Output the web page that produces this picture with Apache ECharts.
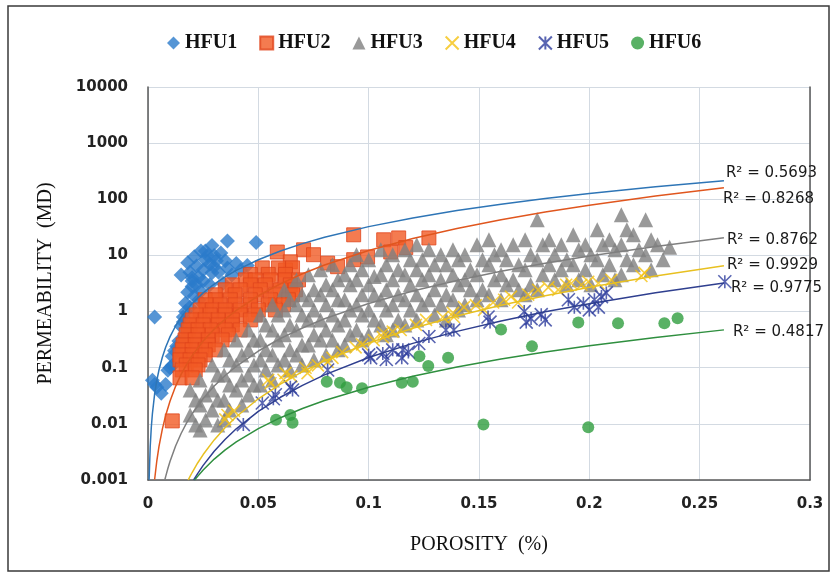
<!DOCTYPE html>
<html><head><meta charset="utf-8">
<script src="https://cdn.jsdelivr.net/npm/echarts@6/dist/echarts.min.js"></script>
<style>html,body{margin:0;padding:0;background:#fff}#c{width:835px;height:581px}</style>
</head><body><div id="c"></div>
<script>
const seriesNames = ['HFU1','HFU2','HFU3','HFU4','HFU5','HFU6'];
const xTickLabels = ['0','0.05','0.1','0.15','0.2','0.25','0.3'];
const yTickLabels = ['0.001','0.01','0.1','1','10','100','1000','10000'];
const rSquared = ['0.5693','0.8268','0.8762','0.9929','0.9775','0.4817'];

const hfu1 = [[0.036,18],[0.049,17],[0.029,15],[0.024,12],[0.033,11],[0.021,9.5],[0.026,8.4],[0.018,7.4],[0.030,6.3],[0.025,5.5],[0.040,7.2],[0.045,6.6],[0.036,6.0],[0.015,4.5],[0.023,4.1],[0.029,4.9],[0.020,2.8],[0.018,2.2],[0.034,3.2],[0.017,1.4],[0.023,1.6],[0.003,0.8],[0.016,0.8],[0.015,0.55],[0.017,0.35],[0.013,0.24],[0.011,0.16],[0.010,0.1],[0.003,0.05],[0.008,0.05],[0.006,0.035],[0.004,0.045],[0.019,5],[0.022,6.5],[0.027,10],[0.031,8],[0.028,3],[0.024,2.3],[0.021,1.9],[0.019,1.2],[0.017,1.0],[0.016,0.65],[0.038,4.5],[0.042,5.5],[0.026,12],[0.020,3.5],[0.019,0.45],[0.014,0.3],[0.012,0.2],[0.009,0.09],[0.002,0.06],[0.011,0.11],[0.028,7],[0.032,5],[0.022,3],[0.025,3.5],[0.035,8],[0.030,10],[0.020,4]];

const hfu2 = [[0.0586,11.5],[0.0705,12.6],[0.075,10.3],[0.0814,7.3],[0.0859,6.3],[0.0932,23.3],[0.0932,8.4],[0.0995,9.4],[0.1068,19],[0.11,11.5],[0.1136,20.5],[0.1168,13.8],[0.1273,20.5],[0.0645,7.7],[0.0623,5.5],
[0.0518,6.0],[0.0591,6.0],[0.0655,6.0],
[0.0464,4.6],[0.0545,4.6],[0.0623,4.6],
[0.0441,3.67],[0.0486,3.67],[0.0555,3.67],[0.0623,3.67],[0.0682,3.67],
[0.0382,2.99],[0.0464,2.99],[0.0532,2.99],[0.0645,2.99],
[0.035,2.44],[0.0418,2.44],[0.0509,2.44],[0.060,2.44],[0.0668,2.44],
[0.0305,1.99],[0.0395,1.99],[0.0486,1.99],[0.0577,1.99],[0.0655,1.99],
[0.0259,1.62],[0.0305,1.62],[0.0373,1.62],[0.0464,1.62],[0.0555,1.62],[0.0636,1.62],
[0.0264,1.32],[0.0327,1.32],[0.0395,1.32],[0.0464,1.32],[0.0545,1.32],[0.0614,1.32],
[0.0236,1.07],[0.0291,1.07],[0.035,1.07],[0.0418,1.07],[0.05,1.07],[0.0577,1.07],
[0.0218,0.873],[0.0282,0.873],[0.035,0.873],[0.0418,0.873],[0.0486,0.873],
[0.02,0.711],[0.0259,0.711],[0.0318,0.711],[0.0382,0.711],[0.0464,0.711],
[0.0191,0.579],[0.025,0.579],[0.0318,0.579],[0.0382,0.579],
[0.0182,0.472],[0.0227,0.472],[0.0282,0.472],[0.035,0.472],[0.0418,0.472],
[0.0173,0.385],[0.0227,0.385],[0.0291,0.385],[0.0364,0.385],
[0.0168,0.313],[0.0214,0.313],[0.0273,0.313],[0.0336,0.313],
[0.0159,0.255],[0.0214,0.255],[0.0273,0.255],
[0.0155,0.208],[0.02,0.208],[0.0259,0.208],[0.0305,0.208],
[0.0145,0.169],[0.02,0.169],[0.0259,0.169],
[0.0145,0.138],[0.0191,0.138],[0.0236,0.138],
[0.0173,0.112],[0.0227,0.112],
[0.0155,0.0914],[0.0214,0.0914],[0.0145,0.066],[0.02,0.066],[0.011,0.0113]];

const hfu3 = [
[0.0191,0.0402],[0.0216,0.0267],[0.0191,0.0144],[0.0216,0.00955],
[0.0236,0.0607],[0.0261,0.0327],[0.0236,0.0217],[0.0261,0.0117],[0.0236,0.00778],
[0.0291,0.112],[0.0316,0.0745],[0.0291,0.0402],[0.0316,0.0267],[0.0291,0.0177],[0.0316,0.00955],
[0.0345,0.208],[0.037,0.138],[0.0345,0.0745],[0.037,0.0494],[0.0345,0.0267],[0.037,0.0177],[0.0345,0.0117],
[0.04,0.313],[0.0425,0.169],[0.04,0.112],[0.0425,0.0607],[0.04,0.0402],[0.0425,0.0217],
[0.0455,0.472],[0.048,0.313],[0.0455,0.208],[0.048,0.112],[0.0455,0.0745],[0.048,0.0494],[0.0455,0.0327],
[0.0509,0.873],[0.0534,0.579],[0.0509,0.313],[0.0534,0.208],[0.0509,0.138],[0.0534,0.0914],[0.0509,0.0494],
[0.0564,1.32],[0.0589,0.873],[0.0564,0.472],[0.0589,0.313],[0.0564,0.169],[0.0589,0.112],[0.0564,0.0607],
[0.0618,2.44],[0.0643,1.62],[0.0618,1.07],[0.0643,0.579],[0.0618,0.385],[0.0643,0.208],[0.0618,0.138],[0.0643,0.0914],
[0.0673,3.67],[0.0698,1.99],[0.0673,1.32],[0.0698,0.873],[0.0673,0.472],[0.0698,0.255],[0.0673,0.169],[0.0698,0.112],
[0.0727,4.51],[0.0752,2.44],[0.0727,1.62],[0.0752,1.07],[0.0727,0.711],[0.0752,0.385],[0.0727,0.255],[0.0752,0.138],
[0.0782,5.54],[0.0807,2.99],[0.0782,1.99],[0.0807,1.32],[0.0782,0.711],[0.0807,0.472],[0.0782,0.313],[0.0807,0.169],
[0.0836,6.81],[0.0861,3.67],[0.0836,2.44],[0.0861,1.62],[0.0836,0.873],[0.0861,0.579],[0.0836,0.313],[0.0861,0.208],
[0.0916,6.81],[0.0891,4.51],[0.0916,2.99],[0.0891,1.62],[0.0916,1.07],[0.0891,0.711],[0.0916,0.385],[0.0891,0.255],
[0.0945,10.3],[0.097,5.54],[0.0945,3.67],[0.097,1.99],[0.0945,1.32],[0.097,0.873],[0.0945,0.472],[0.097,0.313],
[0.1,8.36],[0.1025,4.2],[0.1,2.99],[0.1025,1.99],[0.1,1.07],[0.1025,0.711],[0.1,0.385],
[0.1055,12.6],[0.108,6.81],[0.1055,4.51],[0.108,2.44],[0.1055,1.62],[0.108,1.07],[0.1055,0.579],[0.108,0.385],
[0.1109,10.3],[0.1134,5.54],[0.1109,3.67],[0.1134,1.99],[0.1109,1.32],[0.1134,0.711],[0.1109,0.472],
[0.1164,12.6],[0.1189,8.36],[0.1164,4.51],[0.1189,2.99],[0.1164,1.62],[0.1189,1.07],[0.1164,0.579],
[0.1218,15.5],[0.1243,8.36],[0.1218,5.54],[0.1243,3.67],[0.1218,1.99],[0.1243,1.32],[0.1218,0.711],
[0.1273,12.6],[0.1298,6.81],[0.1273,4.51],[0.1298,2.44],[0.1273,1.62],[0.1298,0.873],
[0.1327,10.3],[0.1352,6.81],[0.1327,3.67],[0.1352,1.99],[0.1327,1.32],[0.1352,0.711],
[0.1382,12.6],[0.1407,8.36],[0.1382,4.51],[0.1407,2.99],[0.1382,1.62],[0.1407,1.07],
[0.1436,10.3],[0.1461,5.54],[0.1436,3.67],[0.1461,2.44],[0.1436,1.32],
[0.1491,15.5],[0.1516,8.36],[0.1491,4.51],[0.1516,2.44],[0.1491,1.62],
[0.1545,19.0],[0.157,10.3],[0.1545,6.81],[0.157,3.67],[0.1545,1.99],
[0.16,12.6],[0.1625,8.36],[0.16,4.51],[0.1625,2.99],[0.16,1.62],
[0.1655,15.5],[0.168,6.81],[0.1655,3.67],[0.168,2.44],
[0.1709,19.0],[0.1734,10.3],[0.1709,5.54],[0.1734,2.99],[0.1709,1.99],
[0.1764,43],[0.1789,15.5],[0.1764,8.36],[0.1789,4.51],[0.1764,2.44],
[0.1818,19.0],[0.1843,10.3],[0.1818,6.81],[0.1843,3.67],
[0.1873,15.5],[0.1898,8.36],[0.1873,5.54],[0.1898,2.99],
[0.1927,23.3],[0.1952,12.6],[0.1927,6.81],[0.1952,3.67],
[0.1982,15.5],[0.2007,10.3],[0.1982,5.54],[0.2007,2.99],
[0.2036,28.6],[0.2061,15.5],[0.2036,8.36],[0.2061,4.51],
[0.2091,19.0],[0.2116,12.6],[0.2091,6.81],[0.2116,3.67],
[0.2145,53],[0.217,28.6],[0.2145,15.5],[0.217,8.36],[0.2145,4.51],
[0.22,23.3],[0.2225,12.6],[0.22,6.81],
[0.2255,43],[0.228,19.0],[0.2255,10.3],[0.228,5.54],
[0.2309,15.5],[0.2334,8.36],
[0.2364,14]];

const hfu4 = [[0.036,0.0144],[0.035,0.012],[0.039,0.017],[0.0545,0.061],[0.0555,0.053],[0.0614,0.061],[0.0623,0.08],[0.065,0.07],[0.0714,0.1],[0.0723,0.08],[0.077,0.11],[0.0814,0.127],[0.0836,0.15],[0.088,0.19],[0.0941,0.23],[0.097,0.26],[0.1023,0.31],[0.1064,0.35],[0.1068,0.42],[0.1109,0.44],[0.1145,0.47],[0.1214,0.58],[0.126,0.71],[0.1336,0.8],[0.1382,0.95],[0.1386,0.8],[0.1432,1.2],[0.1486,1.3],[0.1523,1.07],[0.1564,1.45],[0.1614,1.62],[0.1645,1.85],[0.1677,1.45],[0.1723,2.0],[0.1768,2.44],[0.1814,2.7],[0.1859,2.44],[0.1895,3.0],[0.1918,3.2],[0.1964,3.0],[0.1995,3.4],[0.2041,3.2],[0.21,3.67],[0.225,4.9],[0.2236,4.3]];

const hfu5 = [[0.0432,0.0097],[0.0518,0.0235],[0.0568,0.028],[0.0577,0.033],[0.0645,0.045],[0.0655,0.04],[0.0814,0.091],[0.1,0.169],[0.1009,0.15],[0.1064,0.18],[0.108,0.14],[0.1109,0.208],[0.1155,0.208],[0.115,0.15],[0.118,0.19],[0.1227,0.27],[0.1273,0.36],[0.135,0.47],[0.1386,0.47],[0.1541,0.8],[0.155,0.65],[0.1705,1.0],[0.1714,0.65],[0.1736,0.75],[0.1782,0.88],[0.18,0.71],[0.1905,1.62],[0.1932,1.2],[0.1973,1.4],[0.2023,1.62],[0.2041,1.2],[0.2077,2.15],[0.2055,1.85],[0.2,1.07],[0.2614,3.4]];

const hfu6 = [[0.058,0.0118],[0.0645,0.0144],[0.0655,0.0105],[0.081,0.056],[0.087,0.054],[0.09,0.045],[0.097,0.043],[0.115,0.054],[0.12,0.056],[0.123,0.16],[0.127,0.107],[0.136,0.15],[0.152,0.0097],[0.16,0.48],[0.174,0.24],[0.195,0.64],[0.1995,0.0087],[0.213,0.62],[0.234,0.62],[0.24,0.76]];

// power-law trend lines
const trend1 = [[0.0005,0.00101],[0.001,0.00392],[0.0015,0.00868],[0.002,0.01526],[0.003,0.0338],[0.004,0.0594],[0.005,0.0919],[0.0065,0.1537],[0.008,0.231],[0.01,0.3577],[0.0125,0.554],[0.015,0.792],[0.0175,1.071],[0.02,1.391],[0.025,2.154],[0.03,3.08],[0.035,4.17],[0.04,5.42],[0.05,8.39],[0.06,11.99],[0.07,16.21],[0.08,21.06],[0.1,32.6],[0.12,46.6],[0.14,63.1],[0.16,81.9],[0.18,103.3],[0.2,126.9],[0.23,166.9],[0.261,213.8]];
const trend2 = [[0.003,0.00102],[0.004,0.0022],[0.005,0.004],[0.0065,0.00807],[0.008,0.01409],[0.01,0.0256],[0.0125,0.0466],[0.015,0.076],[0.0175,0.1148],[0.02,0.1641],[0.025,0.2985],[0.03,0.4866],[0.035,0.7356],[0.04,1.052],[0.05,1.913],[0.06,3.12],[0.07,4.715],[0.08,6.74],[0.1,12.26],[0.12,19.99],[0.14,30.2],[0.16,43.2],[0.18,59.3],[0.2,78.6],[0.23,114.3],[0.261,160.3]];
const trend3 = [[0.0076,0.001],[0.008,0.00115],[0.009,0.0016],[0.01,0.00216],[0.0125,0.00403],[0.015,0.00673],[0.0175,0.01038],[0.02,0.0151],[0.025,0.0283],[0.03,0.0472],[0.035,0.0728],[0.04,0.106],[0.05,0.1984],[0.06,0.3312],[0.07,0.5107],[0.08,0.743],[0.1,1.391],[0.12,2.322],[0.14,3.58],[0.16,5.21],[0.18,7.26],[0.2,9.75],[0.23,14.44],[0.261,20.6]];
const trend4 = [[0.0182,0.001],[0.019,0.00115],[0.02,0.00136],[0.0225,0.00201],[0.025,0.00284],[0.03,0.00518],[0.035,0.00862],[0.04,0.0134],[0.05,0.028],[0.06,0.0511],[0.07,0.0849],[0.08,0.132],[0.1,0.2755],[0.12,0.503],[0.14,0.836],[0.16,1.30],[0.18,1.918],[0.2,2.713],[0.23,4.30],[0.261,6.53]];
const trend5 = [[0.0207,0.001],[0.0225,0.0013],[0.025,0.00182],[0.03,0.00326],[0.035,0.00533],[0.04,0.00816],[0.05,0.01663],[0.06,0.02975],[0.07,0.0486],[0.08,0.0744],[0.1,0.1517],[0.12,0.2715],[0.14,0.4437],[0.16,0.6794],[0.18,0.9897],[0.2,1.384],[0.23,2.162],[0.261,3.236]];
const trend6 = [[0.0211,0.001],[0.0225,0.00116],[0.025,0.00151],[0.03,0.00236],[0.035,0.00344],[0.04,0.00477],[0.05,0.00824],[0.06,0.01288],[0.07,0.01878],[0.08,0.02605],[0.1,0.045],[0.12,0.07037],[0.14,0.1026],[0.16,0.1424],[0.18,0.19],[0.2,0.246],[0.23,0.3464],[0.261,0.472]];

const scatterData = [hfu1,hfu2,hfu3,hfu4,hfu5,hfu6];
const trendData = [trend1,trend2,trend3,trend4,trend5,trend6];

const markerColors = ['#2a7acb','#f15a24','#808080','#f5c211','#2e3d9e','#2f9e3f'];
const trendColors = ['#2e75b6','#e0561e','#7f7f7f','#e8c020','#2f3f8f','#2f8f3f'];
const symbols = ['diamond','rect','triangle','path://M0,0L10,10M10,0L0,10','path://M0,0L10,10M10,0L0,10M5,0L5,10','circle'];
const sizes = [15,14,15,12,13,12];
const labelOffsets = [[-6,-8],[-9,11],[-5,2],[-5,-1],[-1,5],[1,2]];

const chart = echarts.init(document.getElementById('c'), null, {renderer:'canvas'});
const series = [];
scatterData.forEach((d,i)=>{
  const strokeOnly = (i===3||i===4);
  series.push({
    name: seriesNames[i], type:'scatter', data:d, symbol:symbols[i], symbolSize:sizes[i], z:2,
    itemStyle: strokeOnly ? {color:'rgba(0,0,0,0)', borderColor:markerColors[i], borderWidth:1.6}
      : (i===1 ? {color:markerColors[i], borderColor:'#e0451c', borderWidth:1} : {color:markerColors[i]})
  });
});
trendData.forEach((d,i)=>{
  series.push({
    name:'trend'+(i+1), type:'line', data:d, smooth:false, showSymbol:false, symbol:'none', z:3,
    lineStyle:{color:trendColors[i], width:1.5}, itemStyle:{color:trendColors[i]}, silent:true,
    endLabel:{show:true, formatter:'R² = '+rSquared[i], offset:labelOffsets[i], fontFamily:'DejaVu Sans', fontSize:15, color:'#1a1a1a'}
  });
});

chart.setOption({
  animation:false,
  backgroundColor:'#fff',
  graphic:[{type:'rect', shape:{x:8,y:6,width:821,height:565}, style:{fill:'none', stroke:'#3a3a3a', lineWidth:1.5}, z:0}],
  legend:{data:seriesNames, left:162, top:28, itemGap:22, itemWidth:13, itemHeight:13,
    textStyle:{fontFamily:'Liberation Serif', fontWeight:'bold', fontSize:20, color:'#111'}},
  grid:{left:148, right:25, top:87, bottom:101, containLabel:false},
  xAxis:{type:'value', min:0, max:0.3, interval:0.05,
    name:'POROSITY  (%)', nameLocation:'middle', nameGap:55,
    nameTextStyle:{fontFamily:'Liberation Serif', fontSize:20, color:'#111'},
    axisLine:{show:true, onZero:false, lineStyle:{color:'#595959', width:1.5}},
    axisTick:{show:false},
    axisLabel:{margin:17, fontFamily:'DejaVu Sans', fontWeight:'bold', fontSize:15, color:'#222',
      formatter:(v)=>xTickLabels[Math.round(v/0.05)]},
    splitLine:{show:true, lineStyle:{color:'#d3dae2', width:1}}},
  yAxis:[{type:'log', logBase:10, min:0.001, max:10000, splitNumber:7,
    name:'PERMEABILITY  (MD)', nameLocation:'middle', nameGap:92, nameRotate:90,
    nameTextStyle:{fontFamily:'Liberation Serif', fontSize:20, color:'#111'},
    axisLine:{show:true, lineStyle:{color:'#595959', width:1.5}},
    axisTick:{show:false},
    axisLabel:{margin:20, fontFamily:'DejaVu Sans', fontWeight:'bold', fontSize:15, color:'#222',
      formatter:(v)=>yTickLabels[Math.round(Math.log10(v))+3]},
    splitLine:{show:true, lineStyle:{color:'#d3dae2', width:1}}},
   {type:'log', logBase:10, min:0.001, max:10000, position:'right',
    axisLine:{show:true, lineStyle:{color:'#595959', width:1.5}}, axisTick:{show:false}, axisLabel:{show:false}, splitLine:{show:false}}],
  series: series
});
</script></body></html>
